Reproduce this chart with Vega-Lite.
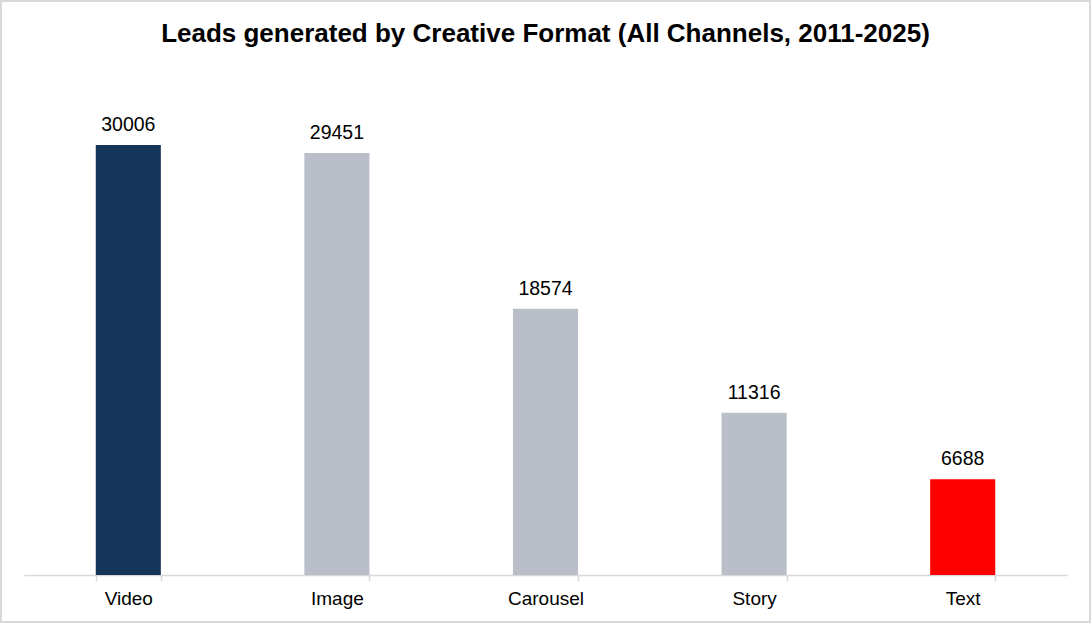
{
  "$schema": "https://vega.github.io/schema/vega-lite/v6.json",
  "autosize": {"type": "none"},
  "padding": {"left": 1, "top": 1, "right": 1, "bottom": 1},
  "width": 1089,
  "height": 621,
  "background": "white",
  "title": {
    "text": "Leads generated by Creative Format (All Channels, 2011-2025)",
    "font": "Liberation Sans",
    "fontSize": 26,
    "fontWeight": "bold",
    "color": "#000000",
    "frame": "group",
    "anchor": "middle",
    "baseline": "alphabetic",
    "offset": -67
  },
  "data": {
    "values": [
      {"format": "Video", "leads": 30006},
      {"format": "Image", "leads": 29451},
      {"format": "Carousel", "leads": 18574},
      {"format": "Story", "leads": 11316},
      {"format": "Text", "leads": 6688}
    ]
  },
  "encoding": {
    "x": {
      "field": "format",
      "type": "nominal",
      "sort": null,
      "title": null,
      "scale": {"range": [23, 1066], "paddingInner": 0.688, "paddingOuter": 0.344},
      "axis": {
        "orient": "bottom",
        "offset": -47,
        "labelAngle": 0,
        "labelFont": "Liberation Sans",
        "labelFontSize": 19,
        "labelColor": "#000000",
        "labelBaseline": "alphabetic",
        "labelPadding": 23,
        "domainColor": "#d9d9d9",
        "domainWidth": 1.5,
        "tickColor": "#d9d9d9",
        "tickWidth": 1.5,
        "tickSize": 6,
        "tickBand": "extent"
      }
    },
    "y": {
      "field": "leads",
      "type": "quantitative",
      "scale": {"domain": [-3280, 40054], "nice": false, "zero": false},
      "axis": null
    }
  },
  "layer": [
    {
      "mark": {"type": "bar"},
      "encoding": {
        "y2": {"datum": 0},
        "color": {
          "field": "format",
          "type": "nominal",
          "scale": {
            "domain": ["Video", "Image", "Carousel", "Story", "Text"],
            "range": ["#15365a", "#b9bec8", "#b9bec8", "#b9bec8", "#ff0000"]
          },
          "legend": null
        }
      }
    },
    {
      "mark": {
        "type": "text",
        "dy": -14,
        "baseline": "alphabetic",
        "font": "Liberation Sans",
        "fontSize": 19.5,
        "color": "#000000"
      },
      "encoding": {
        "text": {"field": "leads", "type": "quantitative", "format": "d"}
      }
    }
  ],
  "config": {
    "view": {"stroke": "#d9d9d9", "strokeWidth": 2},
    "axis": {"grid": false}
  }
}
